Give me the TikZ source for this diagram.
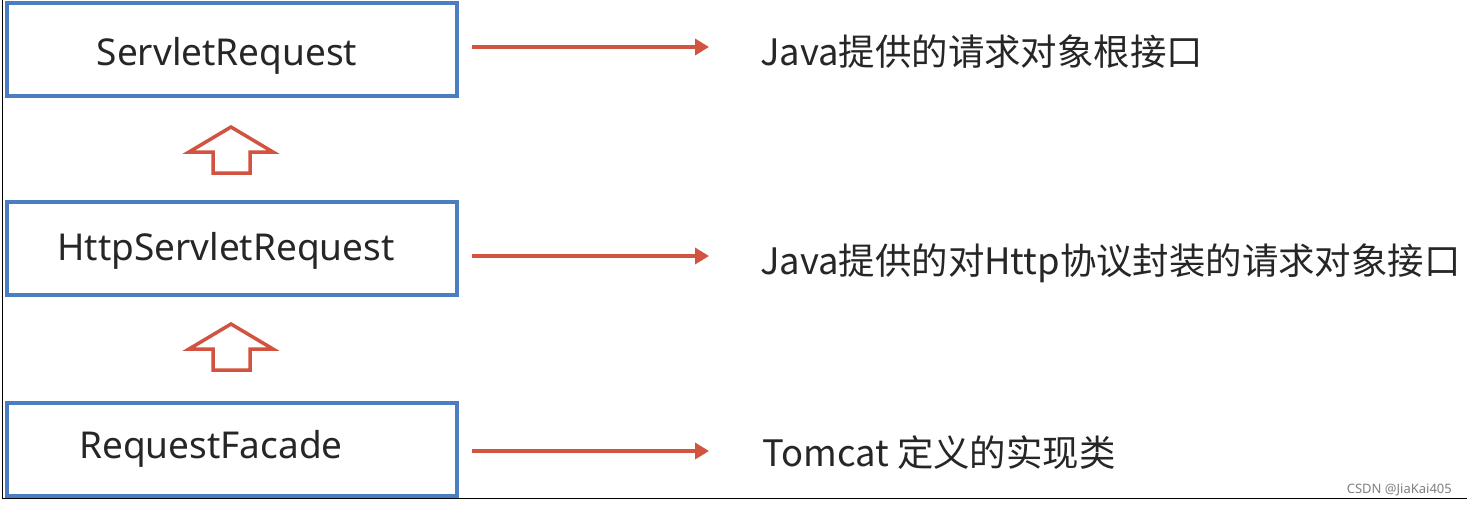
\documentclass[tikz,border=0pt]{standalone}
\usepackage{fontspec}
\usetikzlibrary{arrows.meta}
\setmainfont{Noto Sans}
\newfontfamily\cjk{Noto Sans CJK SC}
\definecolor{boxblue}{HTML}{4A7EC0}
\definecolor{arrred}{HTML}{D2533F}
\definecolor{txt}{HTML}{262626}
\begin{document}
\begin{tikzpicture}[x=1pt,y=-1pt,
  cls/.style={draw=boxblue,line width=4pt,minimum width=450pt,minimum height=93pt,inner sep=0pt},
  lbl/.style={anchor=base,text=txt,font=\fontsize{37}{40}\selectfont,inner sep=0pt},
  desc/.style={anchor=base west,text=txt,font=\cjk\fontsize{36.4}{40}\selectfont,inner sep=0pt},
  relarrow/.style={draw=arrred,line width=4pt,-{Triangle[length=14pt,width=16pt]}},
  upfill/.style={draw=arrred,line width=3.5pt,fill=white,line join=miter}]
\useasboundingbox (0,0) rectangle (1467,504);
\fill[white] (0,0) rectangle (1467,504);
\draw[black,line width=1pt] (2,0) -- (2,498) -- (1467,498);
% class boxes
\node[cls] (b1) at (232,49) {};
\node[cls] (b2) at (232,248) {};
\node[cls] (b3) at (232,449) {};
\node[lbl] (t1) at (227,65) {ServletRequest};
\node[lbl] (t2) at (226,260) {HttpServletRequest};
\node[lbl] (t3) at (211,458) {RequestFacade};
% up arrows
\draw[upfill] (231,127) -- (273,152) -- (250,152) -- (250,173) -- (213,173) -- (213,152) -- (189,152) -- cycle;
\draw[upfill] (231,324) -- (273,349) -- (250,349) -- (250,370) -- (213,370) -- (213,349) -- (189,349) -- cycle;
% descriptions
\coordinate (s1) at (472,47);
\coordinate (s2) at (472,256);
\coordinate (s3) at (472,451);
\node[desc] (d1) at (760,65) {Java提供的请求对象根接口};
\node[desc] (d2) at (760,274) {Java提供的对Http协议封装的请求对象接口};
\node[desc] (d3) at (762,466) {Tomcat 定义的实现类};
\coordinate (e1) at (709,47);
\coordinate (e2) at (709,256);
\coordinate (e3) at (709,451);
\draw[relarrow] (s1) -- (e1);
\draw[relarrow] (s2) -- (e2);
\draw[relarrow] (s3) -- (e3);
\node[anchor=base east,text=gray,font=\fontsize{13}{15}\selectfont,inner sep=0pt] (wm) at (1452,493) {CSDN @JiaKai405};
\end{tikzpicture}
\end{document}
